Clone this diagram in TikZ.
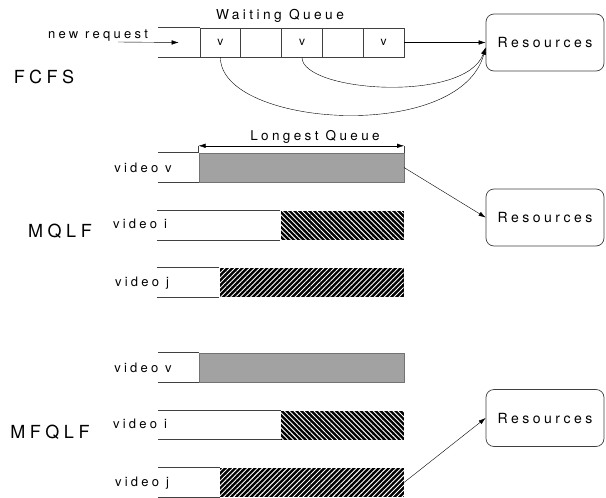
\documentclass[tikz,border=0pt]{standalone}
\usepackage{fontspec}
\setmainfont[LetterSpace=25]{TeX Gyre Heros}
\usetikzlibrary{arrows.meta,patterns.meta}

\begin{document}
\begin{tikzpicture}[x=1pt,y=-1pt,>={Latex[length=7pt,width=4.5pt]},
line/.style={draw=black!75,line width=0.7pt},
cell/.style={line,minimum width=40.8pt,minimum height=29pt,inner sep=0pt,font=\fontsize{12}{14}\selectfont},
res/.style={line,rounded corners=8pt,minimum width=118pt,minimum height=57pt,font=\fontsize{14}{16}\selectfont},
lbl/.style={inner sep=0pt,font=\fontsize{13}{15}\selectfont},
big/.style={inner sep=0pt,font=\fontsize{18}{20}\selectfont},
bar/.style={anchor=east,minimum height=29pt,inner sep=0pt},
graybar/.style={bar,draw=black!55,line width=0.4pt,preaction={fill=black!33},pattern={Dots[distance=2pt,radius=0.45pt]},pattern color=black!75},
hatchup/.style={bar,preaction={fill=black},pattern={Lines[angle=45,distance=3.5pt,line width=0.9pt]},pattern color=white},
hatchdown/.style={bar,preaction={fill=black},pattern={Lines[angle=-45,distance=3.5pt,line width=0.9pt]},pattern color=white}]
\useasboundingbox (0,0) rectangle (606,498);

% FCFS
\foreach \i/\t in {1/v,2/,3/v,4/,5/v}
  \node[cell] (c\i) at ({220.4+40.8*(\i-1)},42.5) {\t};
\draw[line] (c1.north west) -- ++(-42,0) (c1.south west) -- ++(-42,0);
\node[lbl] (nr) at (98,36) {new request};
\coordinate (nrs) at (118,42);
\draw[->] (nrs) -- ([xshift=-21pt]c1.west);
\node[lbl,font=\fontsize{13.7}{15}\selectfont] (wq) at (280,16) {Waiting Queue};
\node[big] (fcfs) at (44,77) {FCFS};
\node[res] (r1) at (545,42.5) {Resources};
\draw[->] (c5.east) -- (r1.west);
\draw[->] (c3.south) to[out=-90,in=-110,out looseness=0.48,in looseness=0.83] ([yshift=-5pt]r1.west);
\draw[->] (c1.south) to[out=-90,in=-105,out looseness=0.67,in looseness=0.96] ([yshift=-5pt]r1.west);

% MQLF and MFQLF
\foreach \g/\dy in {m/0,f/200}{
  \node[graybar,minimum width=205pt] (\g v) at (404,167.5+\dy) {};
  \draw[line] (\g v.north west) -- ++(-41,0) (\g v.south west) -- ++(-41,0);
  \node[hatchdown,minimum width=123pt] (\g i) at (404,225+\dy) {};
  \draw[line] (\g i.north west) -- ++(-123,0) (\g i.south west) -- ++(-123,0);
  \node[hatchup,minimum width=184pt] (\g j) at (404,282.5+\dy) {};
  \draw[line] (\g j.north west) -- ++(-62,0) (\g j.south west) -- ++(-62,0);
  \node[lbl] at (143,168+\dy) {video v};
  \node[lbl] at (140,224+\dy) {video i};
  \node[lbl] at (142,283+\dy) {video j};
}
\draw[line] (mv.north west) -- ++(0,-7) coordinate (lq1);
\draw[line] (mv.north east) -- ++(0,-7) coordinate (lq2);
\draw[<->] (lq1) -- (lq2);
\node[lbl,font=\fontsize{13.5}{15}\selectfont] (lq) at (315,137) {Longest Queue};
\node[big] (mqlf) at (60,231) {MQLF};
\node[big] (mfqlf) at (50,432) {MFQLF};
\node[res] (r2) at (545,217.5) {Resources};
\node[res] (r3) at (545,418) {Resources};
\draw[->] (mv.east) -- (r2.west);
\draw[->] (fj.east) -- (r3.west);
\end{tikzpicture}
\end{document}
